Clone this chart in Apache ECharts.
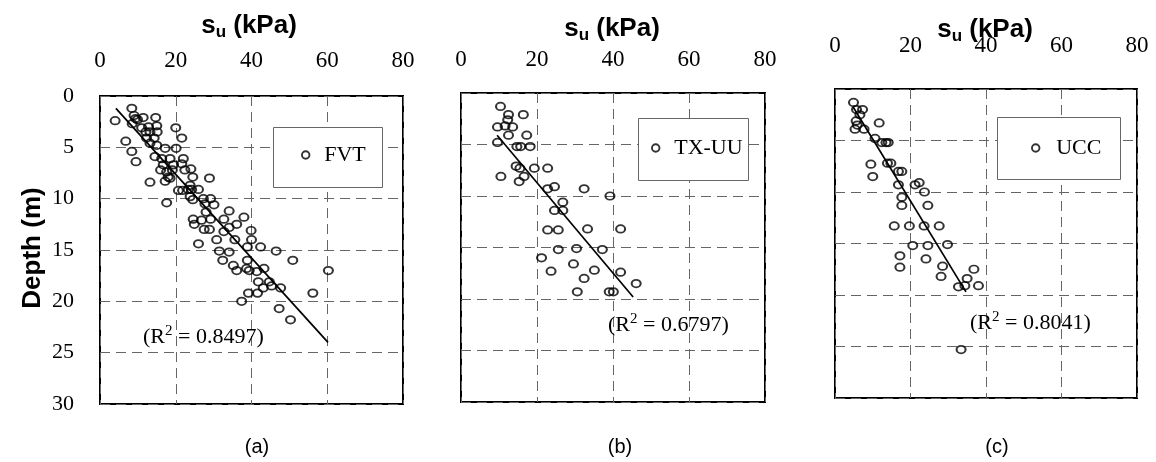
<!DOCTYPE html>
<html><head><meta charset="utf-8">
<script src="https://cdn.jsdelivr.net/npm/echarts@6/dist/echarts.min.js"></script>
<style>html,body{margin:0;padding:0;background:#fff}#c{width:1156px;height:462px}</style>
</head><body><div id="c"></div>
<script>
// ---------- data ----------
const panelNames = ['FVT', 'TX-UU', 'UCC'];
const panelCaptions = ['(a)', '(b)', '(c)'];
const r2Values = ['0.8497', '0.6797', '0.8041'];
const suTicks = [0, 20, 40, 60, 80];
const depthTicks = [0, 5, 10, 15, 20, 25, 30];

// [su (kPa), depth (m)]
const fvtPoints = [
  [8.4,1.2],[9.0,1.9],[9.4,2.2],[9.9,2.3],[4.0,2.4],[11.4,2.1],[14.7,2.1],[8.5,2.7],[11.0,3.1],[12.8,3.0],
  [15.0,2.9],[20.0,3.1],[12.1,3.5],[13.2,3.5],[15.1,3.5],[21.6,4.1],[12.3,4.1],[14.3,4.1],[6.8,4.4],[13.2,4.6],
  [15.0,4.8],[17.2,5.1],[20.1,5.1],[8.4,5.4],[14.5,5.9],[16.3,6.1],[18.5,6.1],[22.0,6.1],[9.5,6.4],[16.7,6.7],
  [19.4,6.7],[21.6,6.6],[16.0,7.2],[17.6,7.4],[19.1,7.2],[24.0,7.1],[22.4,7.2],[18.0,7.9],[24.5,7.9],[28.9,8.0],
  [13.2,8.4],[17.2,8.3],[18.5,8.0],[23.8,8.7],[20.7,9.2],[21.8,9.2],[23.3,9.1],[24.2,9.1],[26.0,9.1],[23.8,9.8],
  [24.5,10.1],[17.6,10.4],[27.3,10.0],[29.2,10.0],[27.7,10.5],[30.1,10.6],[28.0,11.3],[34.1,11.2],[38.0,11.8],[24.6,12.0],
  [24.9,12.5],[26.8,12.1],[29.2,12.0],[32.7,12.0],[36.1,12.5],[34.1,12.8],[27.5,13.0],[28.9,13.0],[32.7,13.2],[39.9,13.1],
  [30.8,14.0],[35.6,14.0],[40.0,14.0],[26.0,14.4],[38.9,14.7],[42.4,14.7],[31.5,15.1],[34.1,15.2],[46.5,15.1],[32.4,16.0],
  [38.9,16.0],[50.9,16.0],[35.2,16.5],[38.7,16.8],[36.1,17.0],[39.4,17.0],[41.4,17.1],[43.3,16.8],[60.3,17.0],[41.8,18.1],
  [44.7,18.1],[45.3,18.5],[43.1,18.7],[47.7,18.7],[39.2,19.2],[41.6,19.2],[56.2,19.2],[37.4,20.0],[47.3,20.7],[50.3,21.8]
];
const txuuPoints = [
  [10.4,1.3],[12.5,2.1],[16.4,2.1],[12.3,2.6],[9.6,3.3],[11.6,3.2],[13.6,3.3],[12.5,4.1],[17.3,4.1],[9.6,4.8],
  [14.7,5.2],[15.7,5.2],[18.2,5.2],[14.5,7.1],[15.5,7.3],[10.5,8.1],[16.6,8.1],[15.3,8.6],[19.3,7.3],[22.8,7.3],
  [22.8,9.3],[24.6,9.1],[32.4,9.3],[39.2,10.0],[26.8,10.6],[24.6,11.4],[26.8,11.4],[22.8,13.3],[25.6,13.3],[33.3,13.2],
  [42.0,13.2],[25.6,15.2],[30.4,15.1],[37.2,15.2],[21.2,16.0],[29.6,16.6],[23.7,17.3],[35.1,17.2],[42.0,17.4],[32.4,18.0],
  [46.1,18.5],[30.6,19.3],[39.0,19.3],[40.1,19.3]
];
const uccPoints = [
  [4.9,1.3],[5.7,2.0],[7.3,2.0],[6.6,2.5],[5.6,3.1],[5.9,3.5],[5.3,3.9],[7.7,3.9],[11.7,3.3],[10.6,4.8],
  [12.4,5.2],[13.5,5.2],[14.1,5.2],[13.9,7.2],[14.8,7.2],[9.5,7.3],[10.0,8.5],[16.8,8.0],[17.7,8.0],[16.8,9.3],
  [21.2,9.3],[22.3,9.1],[23.7,10.0],[17.7,10.5],[17.7,11.3],[24.6,11.3],[15.7,13.3],[19.7,13.3],[23.6,13.3],[27.6,13.3],
  [20.6,15.2],[24.6,15.2],[29.8,15.1],[17.2,16.2],[17.2,17.3],[24.1,16.5],[28.5,17.2],[28.1,18.2],[36.8,17.5],[35.0,18.4],
  [32.7,19.2],[34.4,19.1],[38.0,19.1],[33.4,25.3]
];
// regression line end points
const fvtTrend = [[4.2,1.2],[60.2,24.0]];
const txuuTrend = [[9.5,4.1],[45.3,19.8]];
const uccTrend = [[4.8,1.75],[34.7,19.7]];

const pointSets = [fvtPoints, txuuPoints, uccPoints];
const trendSets = [fvtTrend, txuuTrend, uccTrend];

// ---------- layout ----------
const grids = [
  {left: 100, top: 96, width: 303, height: 308},
  {left: 461, top: 93, width: 304, height: 309},
  {left: 835, top: 89, width: 302, height: 309}
];
const xLabelMargins = [24, 22, 32];
const titlePos = [[249, 26], [612, 29], [985, 30]];
const legendBoxes = [[273,127,109,60],[638,118,110,62],[997,117,123,62]];
const legendPos = [[301,144,9],[651,137,9],[1031,137,11]];
const r2Pos = [[143,337],[608,325],[970,323]];
const captionPos = [[257,447],[620,447],[997,447]];

const serif = 'Liberation Serif, Times New Roman, serif';
const sans = 'Liberation Sans, Arial, sans-serif';
const gridLine = {show: true, lineStyle: {color: '#666', width: 1, type: [10, 6]}};
const markerStyle = {color: 'rgba(0,0,0,0)', borderColor: '#000', borderWidth: 1.9};

const option = {
  animation: false,
  backgroundColor: '#fff',
  grid: grids.map(g => Object.assign({show: true, borderColor: '#000', borderWidth: 2, containLabel: false}, g)),
  xAxis: grids.map((g, i) => ({
    gridIndex: i, type: 'value', position: 'top',
    min: suTicks[0], max: suTicks[suTicks.length - 1], interval: suTicks[1] - suTicks[0],
    axisLine: {show: false}, axisTick: {show: false},
    axisLabel: {fontFamily: serif, fontSize: 23, color: '#000', margin: xLabelMargins[i]},
    splitLine: gridLine
  })),
  yAxis: grids.map((g, i) => ({
    gridIndex: i, type: 'value', inverse: true,
    min: depthTicks[0], max: depthTicks[depthTicks.length - 1], interval: depthTicks[1] - depthTicks[0],
    axisLine: {show: false}, axisTick: {show: false},
    axisLabel: {show: i === 0, fontFamily: serif, fontSize: 22, color: '#000', margin: 26},
    splitLine: gridLine
  })),
  legend: panelNames.map((n, i) => ({
    data: [n], left: legendPos[i][0], top: legendPos[i][1], padding: 0,
    itemWidth: 9, itemHeight: 7.5, selectedMode: false,
    itemStyle: markerStyle,
    textStyle: {fontFamily: serif, fontSize: 22, lineHeight: 22, color: '#000', padding: [0, 0, 0, legendPos[i][2]]}
  })),
  series: [].concat(...panelNames.map((n, i) => ([
    {
      name: n, type: 'scatter', xAxisIndex: i, yAxisIndex: i, data: pointSets[i],
      symbol: 'circle', symbolSize: [9, 7.5],
      itemStyle: markerStyle, z: 3
    },
    {
      name: n + ' fit', type: 'line', xAxisIndex: i, yAxisIndex: i, data: trendSets[i],
      showSymbol: false, symbol: 'none', lineStyle: {color: '#000', width: 1.7}, z: 2, silent: true
    }
  ]))),
  graphic: [].concat(
    legendBoxes.map(b => ({
      type: 'rect', shape: {x: b[0] + 0.5, y: b[1] + 0.5, width: b[2], height: b[3]},
      style: {fill: '#fff', stroke: '#666', lineWidth: 1}, z: 1
    })),
    titlePos.map(p => ({
      type: 'text', x: p[0], y: p[1], z: 10,
      style: {
        text: '{m|s}{s|u}{m| (kPa)}', align: 'center', verticalAlign: 'middle',
        rich: {
          m: {fontFamily: sans, fontWeight: 'bold', fontSize: 26, lineHeight: 30, fill: '#000'},
          s: {fontFamily: sans, fontWeight: 'bold', fontSize: 17, lineHeight: 18, verticalAlign: 'bottom', fill: '#000'}
        }
      }
    })),
    r2Values.map((v, i) => ({
      type: 'text', x: r2Pos[i][0], y: r2Pos[i][1], z: 10,
      style: {
        text: '{m|(R}{p|2}{m| = ' + v + ')}', align: 'left', verticalAlign: 'middle',
        rich: {
          m: {fontFamily: serif, fontSize: 22, lineHeight: 26, fill: '#000'},
          p: {fontFamily: serif, fontSize: 15, lineHeight: 12, verticalAlign: 'top', fill: '#000'}
        }
      }
    })),
    panelCaptions.map((c, i) => ({
      type: 'text', x: captionPos[i][0], y: captionPos[i][1], z: 10,
      style: {text: c, align: 'center', verticalAlign: 'middle', fontFamily: sans, fontSize: 20, fill: '#000'}
    })),
    [{
      type: 'text', x: 33, y: 248, rotation: Math.PI / 2, z: 10,
      style: {text: 'Depth (m)', align: 'center', verticalAlign: 'middle', fontFamily: sans, fontWeight: 'bold', fontSize: 26, fill: '#000'}
    }]
  )
};
const chart = echarts.init(document.getElementById('c'), null, {renderer: 'canvas'});
chart.setOption(option);
</script></body></html>
